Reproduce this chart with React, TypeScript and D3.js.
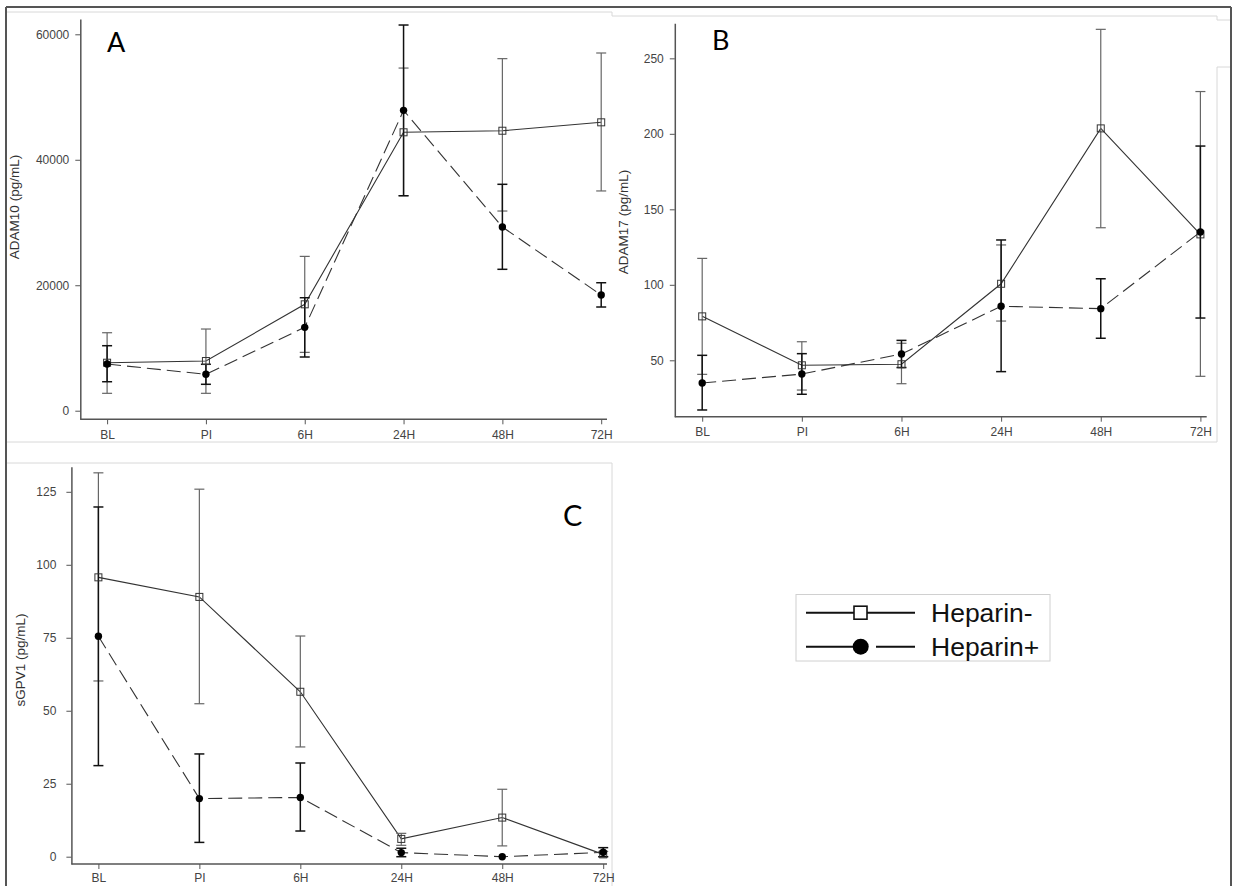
import React, { useEffect, useRef } from 'react';
import * as d3 from 'd3';

const timepoints = ['BL', 'PI', '6H', '24H', '48H', '72H'];

// A: ADAM10
const adam10Neg = [7650, 7920, 16960, 44380, 44630, 45970];
const adam10NegLo = [2770, 2770, 9300, 34270, 31830, 35030];
const adam10NegHi = [12430, 13020, 24600, 54620, 56120, 57020];
const adam10Pos = [7440, 5800, 13290, 47880, 29280, 18440];
const adam10PosLo = [4620, 4210, 8560, 34270, 22540, 16530];
const adam10PosHi = [10360, 7400, 18010, 61480, 36090, 20400];
const adam10Ticks = [0, 20000, 40000, 60000];

// B: ADAM17
const adam17Neg = [79.1, 46.7, 47.4, 100.7, 203.6, 133.4];
const adam17NegLo = [40.7, 30.3, 34.5, 76, 137.8, 39.4];
const adam17NegHi = [117.5, 62.3, 61.3, 126.4, 269.2, 228];
const adam17Pos = [35, 40.9, 54.2, 85.8, 84.2, 135];
const adam17PosLo = [17.1, 27.5, 45.2, 42.5, 64.6, 78];
const adam17PosHi = [53.3, 54.4, 63.2, 129.7, 104, 191.9];
const adam17Ticks = [50, 100, 150, 200, 250];

// C: sGPV1
const sgpvNeg = [95.7, 89.0, 56.5, 6.1, 13.4, 0.8];
const sgpvNegLo = [60.2, 52.4, 37.6, 3.9, 3.7, 0];
const sgpvNegHi = [131.5, 125.9, 75.6, 8.0, 23.1, 1.8];
const sgpvPos = [75.5, 19.9, 20.3, 1.4, 0, 1.5];
const sgpvPosLo = [31.2, 4.9, 8.8, 0, 0, 0];
const sgpvPosHi = [119.8, 35.2, 32.1, 2.9, 0, 3.1];
const sgpvTicks = [0, 25, 50, 75, 100, 125];

const seriesNames = ['Heparin-', 'Heparin+'];

const panels = [
  {
    letter: 'A', title: 'ADAM10 (pg/mL)', ticks: adam10Ticks, domain: [-1370, 62440],
    neg: [adam10Neg, adam10NegLo, adam10NegHi], pos: [adam10Pos, adam10PosLo, adam10PosHi],
    axisX: 80.3, top: 19, bottom: 419.3, right: 607, first: 107.1, last: 601.2,
    titleX: 19, titleY: 207, letterX: 107, letterY: 52, letterSize: 27, yPad: 6, xPad: 6,
  },
  {
    letter: 'B', title: 'ADAM17 (pg/mL)', ticks: adam17Ticks, domain: [12.65, 273.2],
    neg: [adam17Neg, adam17NegLo, adam17NegHi], pos: [adam17Pos, adam17PosLo, adam17PosHi],
    axisX: 674.8, top: 23.3, bottom: 416.7, right: 1206.7, first: 702.2, last: 1200.4,
    titleX: 628, titleY: 222, letterX: 712, letterY: 50, letterSize: 27, yPad: 6, xPad: 6,
  },
  {
    letter: 'C', title: 'sGPV1 (pg/mL)', ticks: sgpvTicks, domain: [-2.5, 133.6],
    neg: [sgpvNeg, sgpvNegLo, sgpvNegHi], pos: [sgpvPos, sgpvPosLo, sgpvPosHi],
    axisX: 71.4, top: 466.7, bottom: 864, right: 607, first: 98.4, last: 603.2,
    titleX: 25, titleY: 660, letterX: 563, letterY: 526, letterSize: 29, yPad: 10, xPad: 4,
  },
];

const FONT = '"Liberation Sans", Arial, sans-serif';

const App = () => {
  const ref = useRef(null);

  useEffect(() => {
    const svg = d3.select(ref.current);
    svg.selectAll('*').remove();

    // screenshot frames
    const frames = svg.append('g').attr('fill', 'none');
    const light = [
      [7, 12, 612, 12], [612, 12, 612, 16], [612, 16, 1217, 16], [1217, 16, 1217, 20], [1217, 20, 1231, 20],
      [1217, 67, 1231, 67], [1217, 67, 1217, 442], [7, 442, 1217, 442],
      [7, 463, 612, 463], [612, 463, 612, 886],
    ];
    frames.selectAll('line.light').data(light).join('line')
      .attr('x1', d => d[0]).attr('y1', d => d[1]).attr('x2', d => d[2]).attr('y2', d => d[3])
      .attr('stroke', '#d8d8d8').attr('stroke-width', 1);
    const dark = [[6, 7, 1231, 7], [6, 7, 6, 886], [1231, 7, 1231, 886]];
    frames.selectAll('line.dark').data(dark).join('line')
      .attr('x1', d => d[0]).attr('y1', d => d[1]).attr('x2', d => d[2]).attr('y2', d => d[3])
      .attr('stroke', '#555').attr('stroke-width', 2);

    panels.forEach(p => {
      const g = svg.append('g');
      const x = d3.scalePoint().domain(timepoints).range([p.first, p.last]);
      const y = d3.scaleLinear().domain(p.domain).range([p.bottom, p.top]);

      // y axis
      const ya = g.append('g').attr('transform', `translate(${p.axisX},0)`)
        .call(d3.axisLeft(y).tickValues(p.ticks).tickSize(5).tickSizeOuter(0).tickPadding(p.yPad).tickFormat(d3.format('d')));
      ya.select('.domain').attr('stroke', '#555').attr('stroke-width', 1.5);
      ya.selectAll('.tick line').attr('stroke', '#555');
      ya.selectAll('text').attr('font-family', FONT).attr('font-size', 12).attr('fill', '#444');

      // x axis
      g.append('line')
        .attr('x1', p.axisX).attr('x2', p.right).attr('y1', p.bottom).attr('y2', p.bottom)
        .attr('stroke', '#555').attr('stroke-width', 1.5);
      const xa = g.append('g').attr('transform', `translate(0,${p.bottom})`)
        .call(d3.axisBottom(x).tickSize(5).tickSizeOuter(0).tickPadding(p.xPad));
      xa.select('.domain').remove();
      xa.selectAll('.tick line').attr('stroke', '#555');
      xa.selectAll('text').attr('font-family', FONT).attr('font-size', 12).attr('fill', '#444');

      g.append('text')
        .attr('transform', `translate(${p.titleX},${p.titleY}) rotate(-90)`)
        .attr('text-anchor', 'middle').attr('font-family', FONT).attr('font-size', 13.5).attr('fill', '#333')
        .text(p.title);

      g.append('text')
        .attr('x', p.letterX).attr('y', p.letterY)
        .attr('font-family', 'Lato, "Open Sans", sans-serif').attr('font-size', p.letterSize).attr('fill', '#000')
        .text(p.letter);

      const line = d3.line().x((d, i) => x(timepoints[i])).y(d => y(d));

      // lines
      g.append('path').datum(p.neg[0]).attr('d', line)
        .attr('fill', 'none').attr('stroke', '#333').attr('stroke-width', 1.1);
      g.append('path').datum(p.pos[0]).attr('d', line)
        .attr('fill', 'none').attr('stroke', '#333').attr('stroke-width', 1.1).attr('stroke-dasharray', '14 6');

      // error bars
      [[p.neg, '#666', 1.2], [p.pos, '#111', 1.5]].forEach(([s, color, w]) => {
        const [vals, lo, hi] = s;
        const eb = g.append('g').attr('stroke', color).attr('stroke-width', w);
        vals.forEach((v, i) => {
          if (lo[i] === hi[i]) return;
          const cx = x(timepoints[i]);
          eb.append('line').attr('x1', cx).attr('x2', cx).attr('y1', y(lo[i])).attr('y2', y(hi[i]));
          eb.append('line').attr('x1', cx - 5).attr('x2', cx + 5).attr('y1', y(lo[i])).attr('y2', y(lo[i]));
          eb.append('line').attr('x1', cx - 5).attr('x2', cx + 5).attr('y1', y(hi[i])).attr('y2', y(hi[i]));
        });
      });

      // markers
      g.append('g').selectAll('rect').data(p.neg[0]).join('rect')
        .attr('x', (d, i) => x(timepoints[i]) - 3.5).attr('y', d => y(d) - 3.5)
        .attr('width', 7).attr('height', 7)
        .attr('fill', 'none').attr('stroke', '#333').attr('stroke-width', 1);
      g.append('g').selectAll('circle').data(p.pos[0]).join('circle')
        .attr('cx', (d, i) => x(timepoints[i])).attr('cy', d => y(d)).attr('r', 3.7)
        .attr('fill', '#000');
    });

    // legend
    const lg = svg.append('g');
    lg.append('rect').attr('x', 796).attr('y', 594.5).attr('width', 254).attr('height', 66.5)
      .attr('fill', '#fff').attr('stroke', '#d0d0d0').attr('stroke-width', 1);
    seriesNames.forEach((name, i) => {
      const cy = 612.7 + i * 34;
      lg.append('line').attr('x1', 806).attr('x2', 915).attr('y1', cy).attr('y2', cy)
        .attr('stroke', '#111').attr('stroke-width', 2)
        .attr('stroke-dasharray', i === 1 ? '62 8' : null);
      if (i === 0) {
        lg.append('rect').attr('x', 854).attr('y', cy - 6.5).attr('width', 13).attr('height', 13)
          .attr('fill', '#fff').attr('stroke', '#111').attr('stroke-width', 1.6);
      } else {
        lg.append('circle').attr('cx', 860.7).attr('cy', cy).attr('r', 8).attr('fill', '#000');
      }
      lg.append('text').attr('x', 931).attr('y', cy + 9.5)
        .attr('font-family', FONT).attr('font-size', 26.5).attr('fill', '#111')
        .text(name);
    });
  }, []);

  return (
    <div style={{ position: 'absolute', left: 0, top: 0 }}>
      <svg ref={ref} width={1233} height={886} style={{ display: 'block', background: '#fff' }}></svg>
    </div>
  );
};

export default App;
